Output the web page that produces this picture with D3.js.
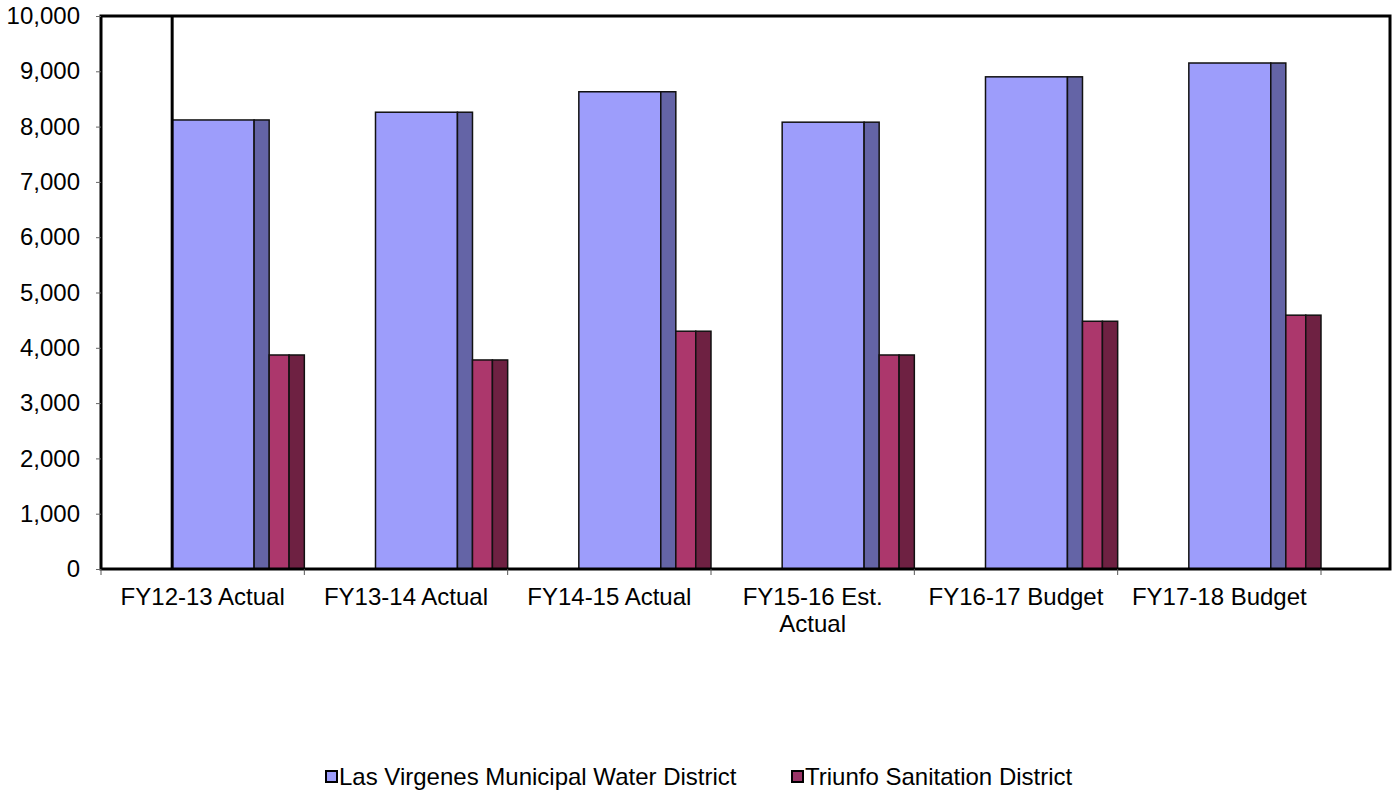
<!DOCTYPE html>
<html>
<head>
<meta charset="utf-8">
<script src="https://cdn.jsdelivr.net/npm/d3@7"></script>
<style>
  body { margin: 0; background: #fff; }
  text { font-family: "Liberation Sans", Arial, sans-serif; fill: #000; }
</style>
</head>
<body>
<script>
const width = 1398;
const height = 792;

const categories = [
  ["FY12-13 Actual"],
  ["FY13-14 Actual"],
  ["FY14-15 Actual"],
  ["FY15-16 Est.", "Actual"],
  ["FY16-17 Budget"],
  ["FY17-18 Budget"]
];
const seriesNames = ["Las Virgenes Municipal Water District", "Triunfo Sanitation District"];
const lvmwd = [8120, 8260, 8630, 8080, 8900, 9150];
const triunfo = [3870, 3780, 4300, 3870, 4480, 4590];
const yTicks = [0, 1000, 2000, 3000, 4000, 5000, 6000, 7000, 8000, 9000, 10000];

const colors = {
  front: ["#9d9dfb", "#ac376c"],
  side: ["#6464a6", "#6e2142"],
  legend: ["#9d9dfb", "#9a3466"]
};

const plot = {left: 101, top: 16, right: 1390, bottom: 569, bandEnd: 1321};
const fontSize = 24;

const svg = d3.select("body").append("svg")
  .attr("width", width)
  .attr("height", height);

const x = d3.scaleBand()
  .domain(d3.range(categories.length))
  .range([plot.left, plot.bandEnd])
  .padding(0);

const y = d3.scaleLinear()
  .domain([0, 10000])
  .range([plot.bottom, plot.top]);

const bw = x.bandwidth();
// front face / side face proportions of each band
const blueOff = bw * 0.35, blueW = bw * 0.403, sideW = bw * 0.074, redW = bw * 0.098;

const data = categories.map((c, i) => ({i, values: [lvmwd[i], triunfo[i]]}));

const groups = svg.append("g")
  .selectAll("g")
  .data(data)
  .join("g")
  .attr("transform", d => `translate(${x(d.i)},0)`);

// blue bars
groups.append("rect")
  .attr("x", blueOff)
  .attr("y", d => y(d.values[0]))
  .attr("width", blueW)
  .attr("height", d => y(0) - y(d.values[0]))
  .attr("fill", colors.front[0])
  .attr("stroke", "#111")
  .attr("stroke-width", 1.5);

groups.append("rect")
  .attr("x", blueOff + blueW)
  .attr("y", d => y(d.values[0]))
  .attr("width", sideW)
  .attr("height", d => y(0) - y(d.values[0]))
  .attr("fill", colors.side[0])
  .attr("stroke", "#111")
  .attr("stroke-width", 1.5);

// red bars
groups.append("rect")
  .attr("x", blueOff + blueW + sideW)
  .attr("y", d => y(d.values[1]))
  .attr("width", redW)
  .attr("height", d => y(0) - y(d.values[1]))
  .attr("fill", colors.front[1])
  .attr("stroke", "#111")
  .attr("stroke-width", 1.5);

groups.append("rect")
  .attr("x", blueOff + blueW + sideW + redW)
  .attr("y", d => y(d.values[1]))
  .attr("width", bw - blueOff - blueW - sideW - redW)
  .attr("height", d => y(0) - y(d.values[1]))
  .attr("fill", colors.side[1])
  .attr("stroke", "#111")
  .attr("stroke-width", 1.5);

// frame
svg.append("rect")
  .attr("x", plot.left)
  .attr("y", plot.top)
  .attr("width", plot.right - plot.left)
  .attr("height", plot.bottom - plot.top)
  .attr("fill", "none")
  .attr("stroke", "#000")
  .attr("stroke-width", 3);

// stray vertical rule along the first bar, as in the source
svg.append("line")
  .attr("x1", x(0) + blueOff).attr("x2", x(0) + blueOff)
  .attr("y1", plot.top).attr("y2", plot.bottom)
  .attr("stroke", "#000")
  .attr("stroke-width", 3);

// y axis
const yAxis = svg.append("g")
  .attr("transform", `translate(${plot.left},0)`)
  .call(d3.axisLeft(y).tickValues(yTicks).tickFormat(d3.format(",")).tickSize(5).tickPadding(16));
yAxis.select(".domain").remove();
yAxis.selectAll("line").attr("stroke", "#666");
yAxis.selectAll("text").attr("font-size", fontSize).attr("font-family", "Liberation Sans, Arial, sans-serif");

// x ticks at band edges
const edges = d3.range(categories.length + 1).map(i => plot.left + i * bw);
svg.append("g")
  .selectAll("line")
  .data(edges)
  .join("line")
  .attr("x1", d => d).attr("x2", d => d)
  .attr("y1", plot.bottom).attr("y2", plot.bottom + 6)
  .attr("stroke", "#555")
  .attr("stroke-width", 1);

// x labels
svg.append("g")
  .selectAll("text")
  .data(data)
  .join("text")
  .attr("x", d => x(d.i) + bw / 2)
  .attr("y", 605)
  .attr("text-anchor", "middle")
  .attr("font-size", fontSize)
  .selectAll("tspan")
  .data(d => categories[d.i].map(t => ({t, cx: x(d.i) + bw / 2})))
  .join("tspan")
  .attr("x", d => d.cx)
  .attr("dy", (d, i) => i === 0 ? 0 : 27)
  .text(d => d.t);

// legend
const legendX = [326, 792];
const legend = svg.append("g")
  .selectAll("g")
  .data(seriesNames)
  .join("g")
  .attr("transform", (d, i) => `translate(${legendX[i]},771)`);

legend.append("rect")
  .attr("width", 11)
  .attr("height", 11)
  .attr("fill", (d, i) => colors.legend[i])
  .attr("stroke", "#000")
  .attr("stroke-width", 2);

legend.append("text")
  .attr("x", 13)
  .attr("y", 14)
  .attr("font-size", fontSize)
  .text(d => d);
</script>
</body>
</html>
